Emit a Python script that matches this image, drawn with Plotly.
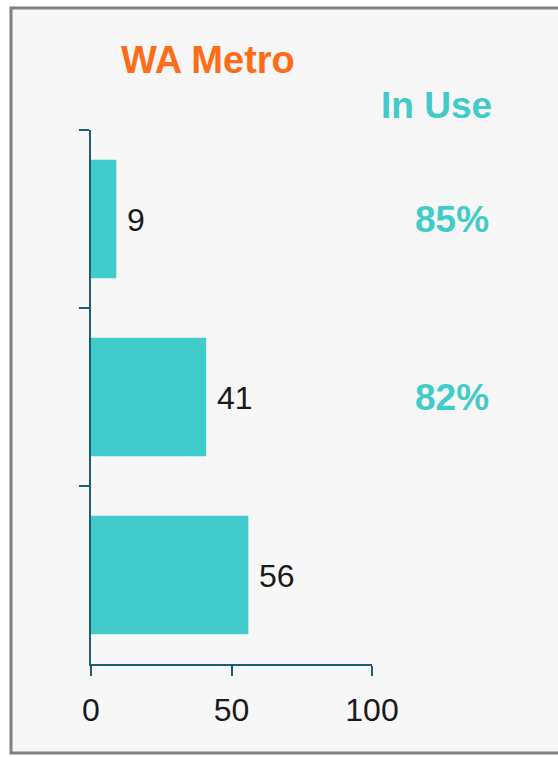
import plotly.graph_objects as go

# Data
categories = ["Group A", "Group B", "Group C"]
counts = [9, 41, 56]
in_use_share = ["85%", "82%", ""]
x_ticks = [0, 50, 100]

# Colours and fonts
TEAL = "#42CBCB"
ORANGE = "#FF6C17"
AXIS = "#1F5C78"
FONT = "Liberation Sans, Arial, sans-serif"

W, H = 558, 757
L, R, T, B = 91, 186, 130, 93
PW, PH = W - L - R, H - T - B


def px_x(p):
    return (p - L) / PW


def px_y(p):
    return (H - B - p) / PH


fig = go.Figure(
    go.Bar(
        x=counts,
        y=categories,
        orientation="h",
        marker=dict(color=TEAL, line=dict(width=0)),
        hoverinfo="skip",
    )
)

# value labels beside each bar
for c, v in zip(categories, counts):
    fig.add_annotation(
        x=v, y=c, xref="x", yref="y", text=str(v), showarrow=False,
        xanchor="left", yanchor="middle", xshift=9, yshift=-1,
        font=dict(family=FONT, size=32, color="#1a1a1a"),
    )

# "In Use" share column
for c, s in zip(categories, in_use_share):
    if s:
        fig.add_annotation(
            x=px_x(452), y=c, xref="paper", yref="y", text=s, showarrow=False,
            xanchor="center", yanchor="middle",
            font=dict(family=FONT, size=37, color=TEAL, weight="bold"),
        )

fig.add_annotation(
    x=px_x(208), y=px_y(60), xref="paper", yref="paper", text="WA Metro",
    showarrow=False, xanchor="center", yanchor="middle",
    font=dict(family=FONT, size=38, color=ORANGE, weight="bold"),
)
fig.add_annotation(
    x=px_x(436), y=px_y(105), xref="paper", yref="paper", text="In Use",
    showarrow=False, xanchor="center", yanchor="middle",
    font=dict(family=FONT, size=37, color=TEAL, weight="bold"),
)

# panel frame
fig.add_shape(
    type="rect", xref="paper", yref="paper",
    x0=px_x(11), x1=px_x(562), y0=px_y(753), y1=px_y(8),
    line=dict(color="#808080", width=3), fillcolor="#F7F7F7", layer="below",
)

fig.update_layout(
    width=W, height=H,
    margin=dict(l=L, r=R, t=T, b=B, pad=0),
    paper_bgcolor="white",
    plot_bgcolor="rgba(0,0,0,0)",
    showlegend=False,
    bargap=0.335,
    font=dict(family=FONT, size=32, color="#1a1a1a"),
    xaxis=dict(
        range=[0, 100], tickvals=x_ticks, ticks="outside", ticklen=10,
        tickwidth=2, tickcolor=AXIS, showline=True, linecolor=AXIS,
        linewidth=2, showgrid=False, zeroline=False, ticklabelstandoff=7,
        tickfont=dict(family=FONT, size=32, color="#1a1a1a"),
    ),
    yaxis=dict(
        autorange="reversed", tickson="boundaries", ticks="outside",
        ticklen=10, tickwidth=2, tickcolor=AXIS, showline=True,
        linecolor=AXIS, linewidth=2, showgrid=False, zeroline=False,
        showticklabels=False,
    ),
)

fig.write_html("out.html")
